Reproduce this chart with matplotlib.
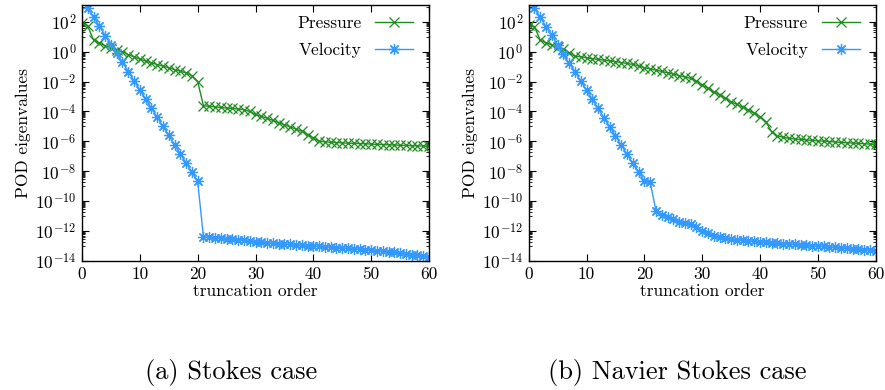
import numpy as np
import matplotlib
matplotlib.use("Agg")
import matplotlib.pyplot as plt
from matplotlib.ticker import LogLocator, FuncFormatter, MultipleLocator

plt.rcParams['font.family'] = ['cmr10', 'DejaVu Serif']
plt.rcParams['mathtext.fontset'] = 'cm'
plt.rcParams['axes.unicode_minus'] = False

# orden de truncamiento 0..60
orden = np.arange(0, 61)

# log10 de los autovalores POD
# (a) Stokes
presion_stokes = [1.9, 1.7, 0.78, 0.56, 0.4, 0.24, 0.11, 0.0, -0.2, -0.35,
                  -0.5, -0.63, -0.75, -0.86, -0.97, -1.08, -1.2, -1.31, -1.42, -1.6,
                  -2.0, -3.62, -3.65, -3.69, -3.73, -3.77, -3.8, -3.84, -3.88, -4.0,
                  -4.2, -4.33, -4.45, -4.6, -4.75, -4.89, -5.03, -5.18, -5.33, -5.55,
                  -5.77, -6.0, -6.03, -6.06, -6.08, -6.1, -6.12, -6.13, -6.15, -6.16,
                  -6.18, -6.2, -6.21, -6.23, -6.24, -6.26, -6.27, -6.29, -6.3, -6.31,
                  -6.33]
velocidad_stokes = [3.5, 2.89, 2.33, 1.71, 1.08, 0.47, -0.12, -0.72, -1.33, -1.95,
                    -2.56, -3.17, -3.78, -4.38, -5.0, -5.6, -6.22, -6.83, -7.45, -8.05,
                    -8.67, -12.4, -12.42, -12.45, -12.48, -12.5, -12.53, -12.57, -12.6, -12.67,
                    -12.73, -12.76, -12.79, -12.82, -12.84, -12.86, -12.89, -12.92, -12.95, -12.97,
                    -13.0, -13.03, -13.05, -13.08, -13.1, -13.13, -13.16, -13.19, -13.22, -13.25,
                    -13.27, -13.31, -13.35, -13.39, -13.43, -13.47, -13.52, -13.57, -13.62, -13.67,
                    -13.73]

# (b) Navier Stokes
presion_ns = [1.78, 1.67, 0.77, 0.6, 0.44, 0.33, 0.15, -0.07, -0.3, -0.34,
              -0.41, -0.47, -0.52, -0.57, -0.62, -0.67, -0.73, -0.79, -0.85, -0.95,
              -1.07, -1.15, -1.23, -1.32, -1.41, -1.5, -1.6, -1.69, -1.79, -1.98,
              -2.23, -2.45, -2.68, -2.9, -3.12, -3.35, -3.53, -3.72, -3.9, -4.12,
              -4.35, -4.69, -5.35, -5.64, -5.72, -5.8, -5.84, -5.87, -5.9, -5.93,
              -5.96, -5.99, -6.01, -6.04, -6.07, -6.09, -6.11, -6.13, -6.16, -6.18,
              -6.2]
velocidad_ns = [3.5, 2.89, 2.29, 1.67, 1.11, 0.44, -0.18, -0.79, -1.34, -1.97,
                -2.57, -3.19, -3.79, -4.42, -5.02, -5.64, -6.25, -6.85, -7.47, -8.05,
                -8.65, -8.7, -10.64, -10.92, -11.04, -11.19, -11.37, -11.44, -11.53, -11.75,
                -12.0, -12.15, -12.33, -12.42, -12.48, -12.53, -12.57, -12.6, -12.64, -12.68,
                -12.71, -12.74, -12.77, -12.8, -12.83, -12.86, -12.89, -12.92, -12.94, -12.97,
                -13.0, -13.03, -13.06, -13.09, -13.12, -13.15, -13.18, -13.21, -13.24, -13.27,
                -13.3]

subtitulos = ['(a) Stokes case', '(b) Navier Stokes case']
datos = [(presion_stokes, velocidad_stokes), (presion_ns, velocidad_ns)]

verde = '#1e8c1e'
azul = '#3399ff'
asterisco = (8, 2, 0)

fig = plt.figure(figsize=(8.85, 3.9), dpi=100)
posiciones = [[82/885, 1-261/390, 347/885, 255.7/390],
              [528.7/885, 1-261/390, 347/885, 255.7/390]]
centros = [231.5/885, 677/885]

for i in range(2):
    ax = fig.add_axes(posiciones[i])
    p, v = datos[i]
    ax.plot(orden, 10.0**np.array(p), color=verde, lw=1.0, marker='x', ms=7, mew=0.9,
            label='Pressure')
    ax.plot(orden, 10.0**np.array(v), color=azul, lw=1.0, marker=asterisco, ms=8, mew=0.9,
            label='Velocity')
    ax.set_yscale('log')
    ax.set_xlim(0, 60)
    ax.set_ylim(1e-14, 10**3.1)
    ax.xaxis.set_major_locator(MultipleLocator(10))
    ax.yaxis.set_major_locator(LogLocator(base=100, numticks=20))
    ax.yaxis.set_minor_locator(LogLocator(base=100, subs=np.arange(10, 100, 10), numticks=20))
    ax.yaxis.set_major_formatter(FuncFormatter(lambda y, pos: r'$10^{%d}$' % round(np.log10(y))))
    ax.yaxis.set_minor_formatter(FuncFormatter(lambda y, pos: ''))
    ax.tick_params(which='both', direction='in', top=True, right=True, labelsize=12.5, pad=4)
    ax.tick_params(which='major', length=5, width=0.8)
    ax.tick_params(which='minor', length=2.5, width=0.6)
    for s in ax.spines.values():
        s.set_linewidth(1.0)
    ax.set_xlabel('truncation order', fontsize=12.5, labelpad=1)
    ax.set_ylabel('POD eigenvalues', fontsize=12.5, labelpad=3)
    ax.legend(loc='upper right', bbox_to_anchor=(1.0, 1.022), frameon=False, markerfirst=False,
              fontsize=12.5, handlelength=2.2, borderaxespad=0.6, labelspacing=0.72, borderpad=0.3)
    fig.text(centros[i], 1-372/390, subtitulos[i],
             ha='center', va='center', fontsize=19)

plt.savefig('out.png', dpi=100)
